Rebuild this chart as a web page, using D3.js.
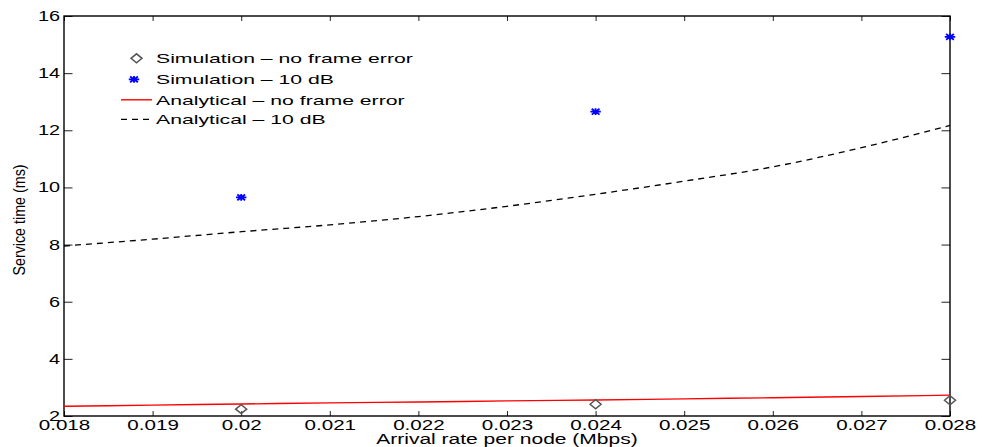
<!DOCTYPE html>
<html>
<head>
<meta charset="utf-8">
<script src="https://cdn.jsdelivr.net/npm/d3@7"></script>
<style>
  html, body { margin: 0; padding: 0; background: #fff; }
  svg { display: block; font-family: "Liberation Sans", Arial, Helvetica, sans-serif; }
</style>
</head>
<body>
<svg id="chart" width="982" height="447"></svg>
<script>
// ---- data ----
const xTicks = [0.018, 0.019, 0.020, 0.021, 0.022, 0.023, 0.024, 0.025, 0.026, 0.027, 0.028];
const xTickLabels = ["0.018", "0.019", "0.02", "0.021", "0.022", "0.023", "0.024", "0.025", "0.026", "0.027", "0.028"];
const yTicks = [2, 4, 6, 8, 10, 12, 14, 16];
const yTickLabels = ["2", "4", "6", "8", "10", "12", "14", "16"];

const simX = [0.020, 0.024, 0.028];
const simNoError = [2.24, 2.41, 2.55];
const sim10dB = [9.65, 12.65, 15.27];

const anaX = [0.018, 0.019, 0.020, 0.021, 0.022, 0.023, 0.024, 0.025, 0.026, 0.027, 0.028];
const anaNoError = [2.34, 2.38, 2.42, 2.46, 2.49, 2.53, 2.56, 2.60, 2.64, 2.68, 2.73];
const ana10dB = [7.95, 8.19, 8.45, 8.69, 8.98, 9.34, 9.76, 10.22, 10.72, 11.39, 12.17];

const legendLabels = ["Simulation \u2013 no frame error", "Simulation \u2013 10 dB", "Analytical \u2013 no frame error", "Analytical \u2013 10 dB"];
const xTitle = "Arrival rate per node (Mbps)";
const yTitle = "Service time (ms)";

// ---- layout ----
const L = 64, R = 950, T = 16, B = 416;
const svg = d3.select("#chart");
const x = d3.scaleLinear().domain([0.018, 0.028]).range([L, R]);
const y = d3.scaleLinear().domain([2, 16]).range([B, T]);

function stretch(sel, k) {
  sel.each(function () {
    const len = this.getComputedTextLength();
    d3.select(this).attr("textLength", len * k).attr("lengthAdjust", "spacingAndGlyphs");
  });
}

// ---- axes ----
const gx = svg.append("g").attr("transform", `translate(0,${B})`)
  .call(d3.axisBottom(x).tickValues(xTicks).tickFormat((d, i) => xTickLabels[i]).tickSize(-5).tickPadding(4));
const gy = svg.append("g").attr("transform", `translate(${L},0)`)
  .call(d3.axisLeft(y).tickValues(yTicks).tickFormat((d, i) => yTickLabels[i]).tickSize(-8.5).tickPadding(4));
const gt = svg.append("g").attr("transform", `translate(0,${T})`)
  .call(d3.axisTop(x).tickValues(xTicks).tickFormat("").tickSize(-5));
const gr = svg.append("g").attr("transform", `translate(${R},0)`)
  .call(d3.axisRight(y).tickValues(yTicks).tickFormat("").tickSize(-8.5));

[gx, gy, gt, gr].forEach(g => {
  g.select(".domain").remove();
  g.selectAll(".tick line").attr("stroke", "#222").attr("stroke-width", 1);
  g.selectAll("text").attr("fill", "#000").style("font-size", "14px")
    .style("font-family", "'Liberation Sans', Arial, Helvetica, sans-serif");
});
stretch(gx.selectAll(".tick text"), 1.47);
stretch(gy.selectAll(".tick text"), 1.42);

// box
svg.append("rect").attr("x", L).attr("y", T).attr("width", R - L).attr("height", B - T)
  .attr("fill", "none").attr("stroke", "#000").attr("stroke-width", 1.4);

// ---- lines ----
const line = d3.line().x(d => x(d[0])).y(d => y(d[1])).curve(d3.curveMonotoneX);
svg.append("path").datum(anaX.map((v, i) => [v, anaNoError[i]]))
  .attr("d", line).attr("fill", "none").attr("stroke", "#ff0000").attr("stroke-width", 1.4);
svg.append("path").datum(anaX.map((v, i) => [v, ana10dB[i]]))
  .attr("d", line).attr("fill", "none").attr("stroke", "#000").attr("stroke-width", 1.3)
  .attr("stroke-dasharray", "6,5");

// ---- markers ----
function diamond(g, cx, cy) {
  g.append("path")
    .attr("d", `M${cx - 5.5},${cy} L${cx},${cy - 4.5} L${cx + 5.5},${cy} L${cx},${cy + 4.5} Z`)
    .attr("fill", "none").attr("stroke", "#555").attr("stroke-width", 1.5);
}
function star(g, cx, cy) {
  const w = 5.2, h = 3.4;
  const d = `M${cx - w},${cy} L${cx + w},${cy} M${cx},${cy - h} L${cx},${cy + h} ` +
            `M${cx - w * 0.75},${cy - h * 0.85} L${cx + w * 0.75},${cy + h * 0.85} ` +
            `M${cx - w * 0.75},${cy + h * 0.85} L${cx + w * 0.75},${cy - h * 0.85}`;
  g.append("path").attr("d", d).attr("fill", "none").attr("stroke", "#0000ff").attr("stroke-width", 1.8);
}
const gm = svg.append("g");
simX.forEach((v, i) => diamond(gm, x(v), y(simNoError[i])));
simX.forEach((v, i) => star(gm, x(v), y(sim10dB[i])));

// ---- titles ----
const xt = svg.append("text").attr("x", (L + R) / 2).attr("y", 444).attr("text-anchor", "middle")
  .style("font-size", "14px").attr("fill", "#000").text(xTitle);
stretch(xt, 1.5);
const yt = svg.append("text").attr("transform", `translate(19,${220}) rotate(-90) scale(1,1.25)`)
  .attr("text-anchor", "middle").attr("dy", "0.35em")
  .style("font-size", "13px").attr("fill", "#000").text(yTitle);
stretch(yt, 1.1);

// ---- legend ----
const lg = svg.append("g");
const rowY = [58.3, 79.3, 99.8, 119.3];
const symX = 136.5, textX = 156;
diamond(lg, symX, rowY[0]);
star(lg, symX - 2.5, rowY[1]);
lg.append("line").attr("x1", 121).attr("x2", 152).attr("y1", rowY[2]).attr("y2", rowY[2])
  .attr("stroke", "#ff0000").attr("stroke-width", 1.4);
lg.append("line").attr("x1", 121).attr("x2", 152).attr("y1", rowY[3]).attr("y2", rowY[3])
  .attr("stroke", "#000").attr("stroke-width", 1.3).attr("stroke-dasharray", "6,5");
const lt = lg.selectAll("text.leg").data(legendLabels).enter().append("text")
  .attr("class", "leg").attr("x", textX).attr("y", (d, i) => rowY[i]).attr("dy", "0.35em")
  .style("font-size", "13.5px").attr("fill", "#000").text(d => d);
stretch(lt, 1.57);
</script>
</body>
</html>
